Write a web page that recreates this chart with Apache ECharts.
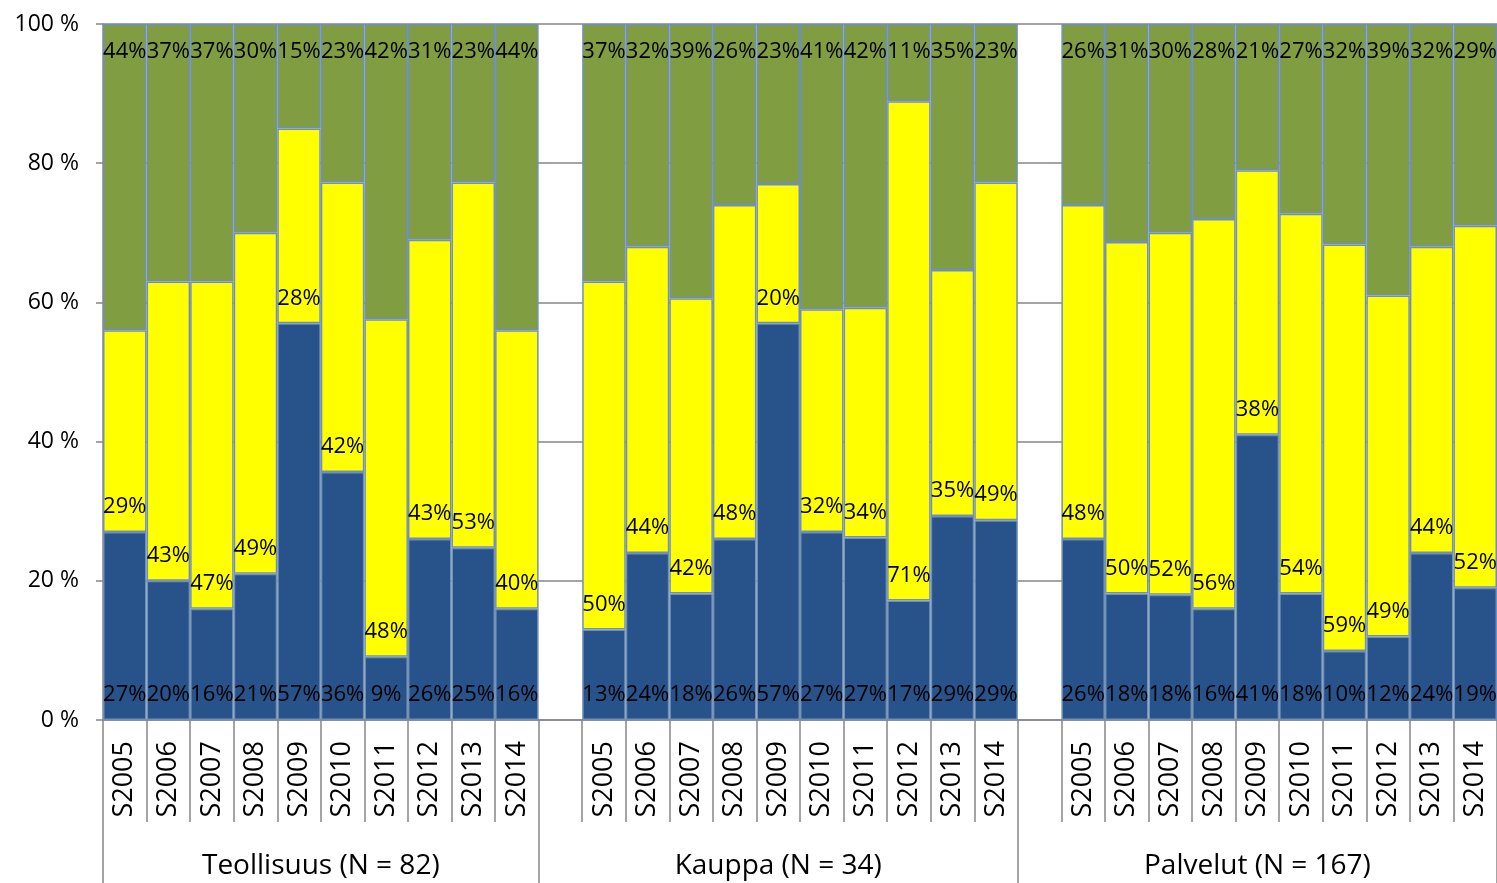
<!DOCTYPE html>
<html>
<head>
<meta charset="utf-8">
<title>Osuudet 2005-2014</title>
<script src="https://cdn.jsdelivr.net/npm/echarts@6/dist/echarts.min.js"></script>
<style>
  html, body { margin: 0; padding: 0; background: #fff; }
  #main { width: 1497px; height: 883px; }
</style>
</head>
<body>
<div id="main"></div>
<script>
// vuodet ja toimialat
var years = ['S2005', 'S2006', 'S2007', 'S2008', 'S2009', 'S2010', 'S2011', 'S2012', 'S2013', 'S2014'];
var groups = ['Teollisuus (N = 82)', 'Kauppa (N = 34)', 'Palvelut (N = 167)'];
var yTicks = [0, 20, 40, 60, 80, 100];

// osuudet (%) – 10 vuotta per toimiala: Teollisuus, Kauppa, Palvelut
var lowShares = [
    27, 20, 16, 21, 57, 36, 9, 26, 25, 16,
    13, 24, 18, 26, 57, 27, 27, 17, 29, 29,
    26, 18, 18, 16, 41, 18, 10, 12, 24, 19
];
var midShares = [
    29, 43, 47, 49, 28, 42, 48, 43, 53, 40,
    50, 44, 42, 48, 20, 32, 34, 71, 35, 49,
    48, 50, 52, 56, 38, 54, 59, 49, 44, 52
];
var highShares = [
    44, 37, 37, 30, 15, 23, 42, 31, 23, 44,
    37, 32, 39, 26, 23, 41, 42, 11, 35, 23,
    26, 31, 30, 28, 21, 27, 32, 39, 32, 29
];

var FONT = '"Open Sans", "Liberation Sans", sans-serif';
var GRID = '#868686';

// kategoriat: tyhjä väli toimialojen välissä
var categories = [];
var dataIndex = [];   // kategoria -> indeksi osuustaulukoihin (tai -1)
var groupEdges = [0];
groups.forEach(function (g, gi) {
    if (gi > 0) { categories.push(''); dataIndex.push(-1); }
    years.forEach(function (y, yi) {
        categories.push(y);
        dataIndex.push(gi * years.length + yi);
    });
    groupEdges.push(categories.length);
});

// 100 % pinottu: skaalataan jokainen pylväs summaan 100
function build(arr) {
    return dataIndex.map(function (i) {
        if (i < 0) return { value: '-', raw: null };
        var sum = lowShares[i] + midShares[i] + highShares[i];
        return { value: arr[i] * 100 / sum, raw: arr[i] };
    });
}

// toinen x-akseli puolikkaan kategorian tarkkuudella ryhmien nimille
var halfCount = categories.length * 2 + 1;
var halfAxis = [];
var tickAt = {};
var labelAt = {};
for (var h = 0; h < halfCount; h++) halfAxis.push('');
groups.forEach(function (g, gi) {
    var start = groupEdges[gi] * 2, end = groupEdges[gi + 1] * 2;
    tickAt[start] = true;
    tickAt[end] = true;
    var mid = Math.round((start + end) / 2);
    halfAxis[mid] = g;
    labelAt[mid] = true;
});

var labelBase = {
    show: true,
    color: '#000',
    fontFamily: FONT,
    fontSize: 22,
    lineHeight: 24,
    formatter: function (p) { return p.data.raw == null ? '' : p.data.raw + '%'; }
};

function barSeries(name, arr, color, pos, dist) {
    return {
        name: name,
        type: 'bar',
        stack: 'osuus',
        barCategoryGap: '0%',
        data: build(arr),
        itemStyle: { color: color, borderColor: '#7190b5', borderWidth: 1.5 },
        label: Object.assign({}, labelBase, { position: pos, distance: dist }),
        emphasis: { disabled: true }
    };
}

var myChart = echarts.init(document.getElementById('main'));

var option = {
    animation: false,
    textStyle: { fontFamily: FONT },
    grid: { left: 103, top: 24, width: 1399, height: 696, containLabel: false },
    xAxis: [
        {
            type: 'category',
            data: categories,
            axisLine: { lineStyle: { color: GRID, width: 1.5 } },
            axisTick: { show: true, interval: 0, length: 102, lineStyle: { color: GRID, width: 1.5 } },
            axisLabel: { interval: 0, rotate: 90, color: '#000', fontFamily: FONT, fontSize: 27, margin: 21 }
        },
        {
            type: 'category',
            data: halfAxis,
            boundaryGap: false,
            position: 'bottom',
            axisLine: { show: false },
            axisTick: {
                show: true,
                length: 165,
                interval: function (i) { return !!tickAt[i]; },
                lineStyle: { color: GRID, width: 1.5 }
            },
            axisLabel: {
                interval: function (i) { return !!labelAt[i]; },
                color: '#000',
                fontFamily: FONT,
                fontSize: 28,
                lineHeight: 30,
                margin: 131
            }
        }
    ],
    yAxis: {
        type: 'value',
        min: yTicks[0],
        max: yTicks[yTicks.length - 1],
        interval: yTicks[1] - yTicks[0],
        axisLine: { show: true, lineStyle: { color: GRID, width: 1.5 } },
        axisTick: { show: true, length: 7, lineStyle: { color: GRID, width: 1.5 } },
        axisLabel: { formatter: '{value} %', color: '#000', fontFamily: FONT, fontSize: 23, margin: 24 },
        splitLine: { show: true, lineStyle: { color: GRID, width: 1.5 } }
    },
    series: [
        barSeries('Alin', lowShares, '#28528a', 'insideBottom', 13),
        barSeries('Keski', midShares, '#ffff00', 'insideBottom', 13),
        barSeries('Ylin', highShares, '#809d41', 'insideTop', 16)
    ]
};

myChart.setOption(option);
</script>
</body>
</html>
